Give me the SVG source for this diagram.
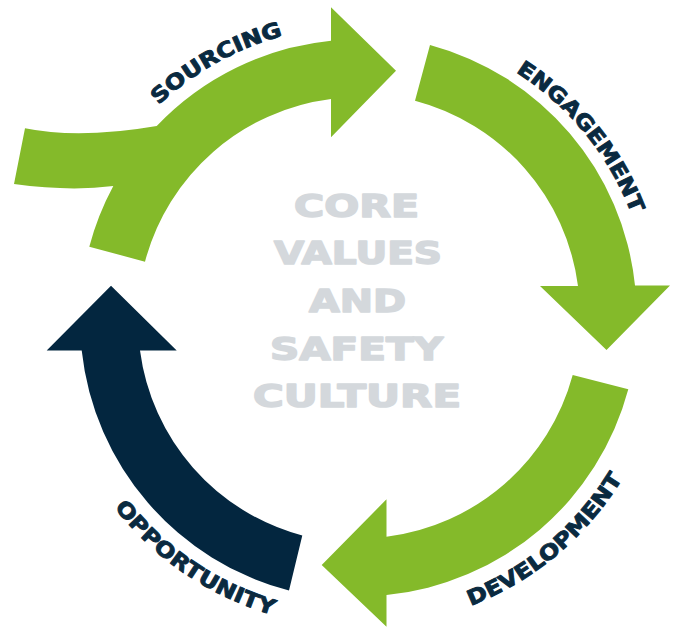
<svg xmlns="http://www.w3.org/2000/svg" width="678" height="628" viewBox="0 0 678 628">
  <style>
    .green { fill: #84ba2a; }
    .navy { fill: #03263f; }
    .label { font-family: "DejaVu Sans", "Liberation Sans", sans-serif; font-weight: bold; font-size: 21px; fill: #0a2a40; stroke: #0a2a40; stroke-width: 0.9px; stroke-linejoin: round; }
    .core { font-family: "DejaVu Sans", "Liberation Sans", sans-serif; font-weight: bold; font-size: 32px; fill: #d4d8dc; stroke: #d4d8dc; stroke-width: 1.6px; stroke-linejoin: round; }
  </style>
  <defs>
    <path id="p-sourcing" d="M 158.6,105.1 A 292 292 0 0 1 282.9,36.0"/>
    <path id="p-engagement" d="M 515.8,72.0 A 292 292 0 0 1 631.3,213.8"/>
    <path id="p-development" d="M 470.8,605.9 A 309 309 0 0 0 622.5,478.5"/>
    <path id="p-opportunity" d="M 114.3,507.4 A 309 309 0 0 0 272.8,614.9"/>
  </defs>
  <rect width="678" height="628" fill="#ffffff"/>

  <g id="connectors">
    <path id="arrow-sourcing" class="green" d="M 145,261.7 L 89.3,246.7 A 279 279 0 0 1 113.3,186 Q 69.8,191.6 14,184 L 25,128.3 Q 79.2,139.4 156.7,126 A 279 279 0 0 1 331,40.7 L 331,7.3 L 396,70.7 L 331,137.3 L 331,99 A 221 221 0 0 0 145,261.7 Z"/>
    <path id="arrow-engagement" class="green" d="M 430,45 A 279 279 0 0 1 635,285.5 L 670,285.5 L 606.5,350 L 540,286 L 578,286 A 221 221 0 0 0 415,100.7 Z"/>
    <path id="arrow-development" class="green" d="M 628.3,389.3 A 279 279 0 0 1 386.5,595 L 386.5,626.7 L 321.7,565 L 386.5,499.3 L 386.5,536.7 A 221 221 0 0 0 572.7,375 Z"/>
    <path id="arrow-opportunity" class="navy" d="M 289,590.5 A 279 279 0 0 1 81.7,350.5 L 46.7,350.5 L 111,285.7 L 176.7,350.5 L 140,350.5 A 221 221 0 0 0 302.3,535.5 Z"/>
  </g>

  <g id="core">
    <text class="core" x="294" y="216.5" textLength="125" lengthAdjust="spacingAndGlyphs">CORE</text>
    <text class="core" x="274" y="264" textLength="168" lengthAdjust="spacingAndGlyphs">VALUES</text>
    <text class="core" x="309" y="311.5" textLength="97" lengthAdjust="spacingAndGlyphs">AND</text>
    <text class="core" x="270" y="359.5" textLength="173" lengthAdjust="spacingAndGlyphs">SAFETY</text>
    <text class="core" x="253" y="407" textLength="208" lengthAdjust="spacingAndGlyphs">CULTURE</text>
  </g>

  <g id="sourcing">
    <text class="label"><textPath href="#p-sourcing" textLength="143.7" lengthAdjust="spacingAndGlyphs">SOURCING</textPath></text>
  </g>
  <g id="engagement">
    <text class="label"><textPath href="#p-engagement" textLength="186" lengthAdjust="spacingAndGlyphs">ENGAGEMENT</textPath></text>
  </g>
  <g id="development">
    <text class="label"><textPath href="#p-development" textLength="201.7" lengthAdjust="spacingAndGlyphs">DEVELOPMENT</textPath></text>
  </g>
  <g id="opportunity">
    <text class="label"><textPath href="#p-opportunity" textLength="194.7" lengthAdjust="spacingAndGlyphs">OPPORTUNITY</textPath></text>
  </g>
</svg>
